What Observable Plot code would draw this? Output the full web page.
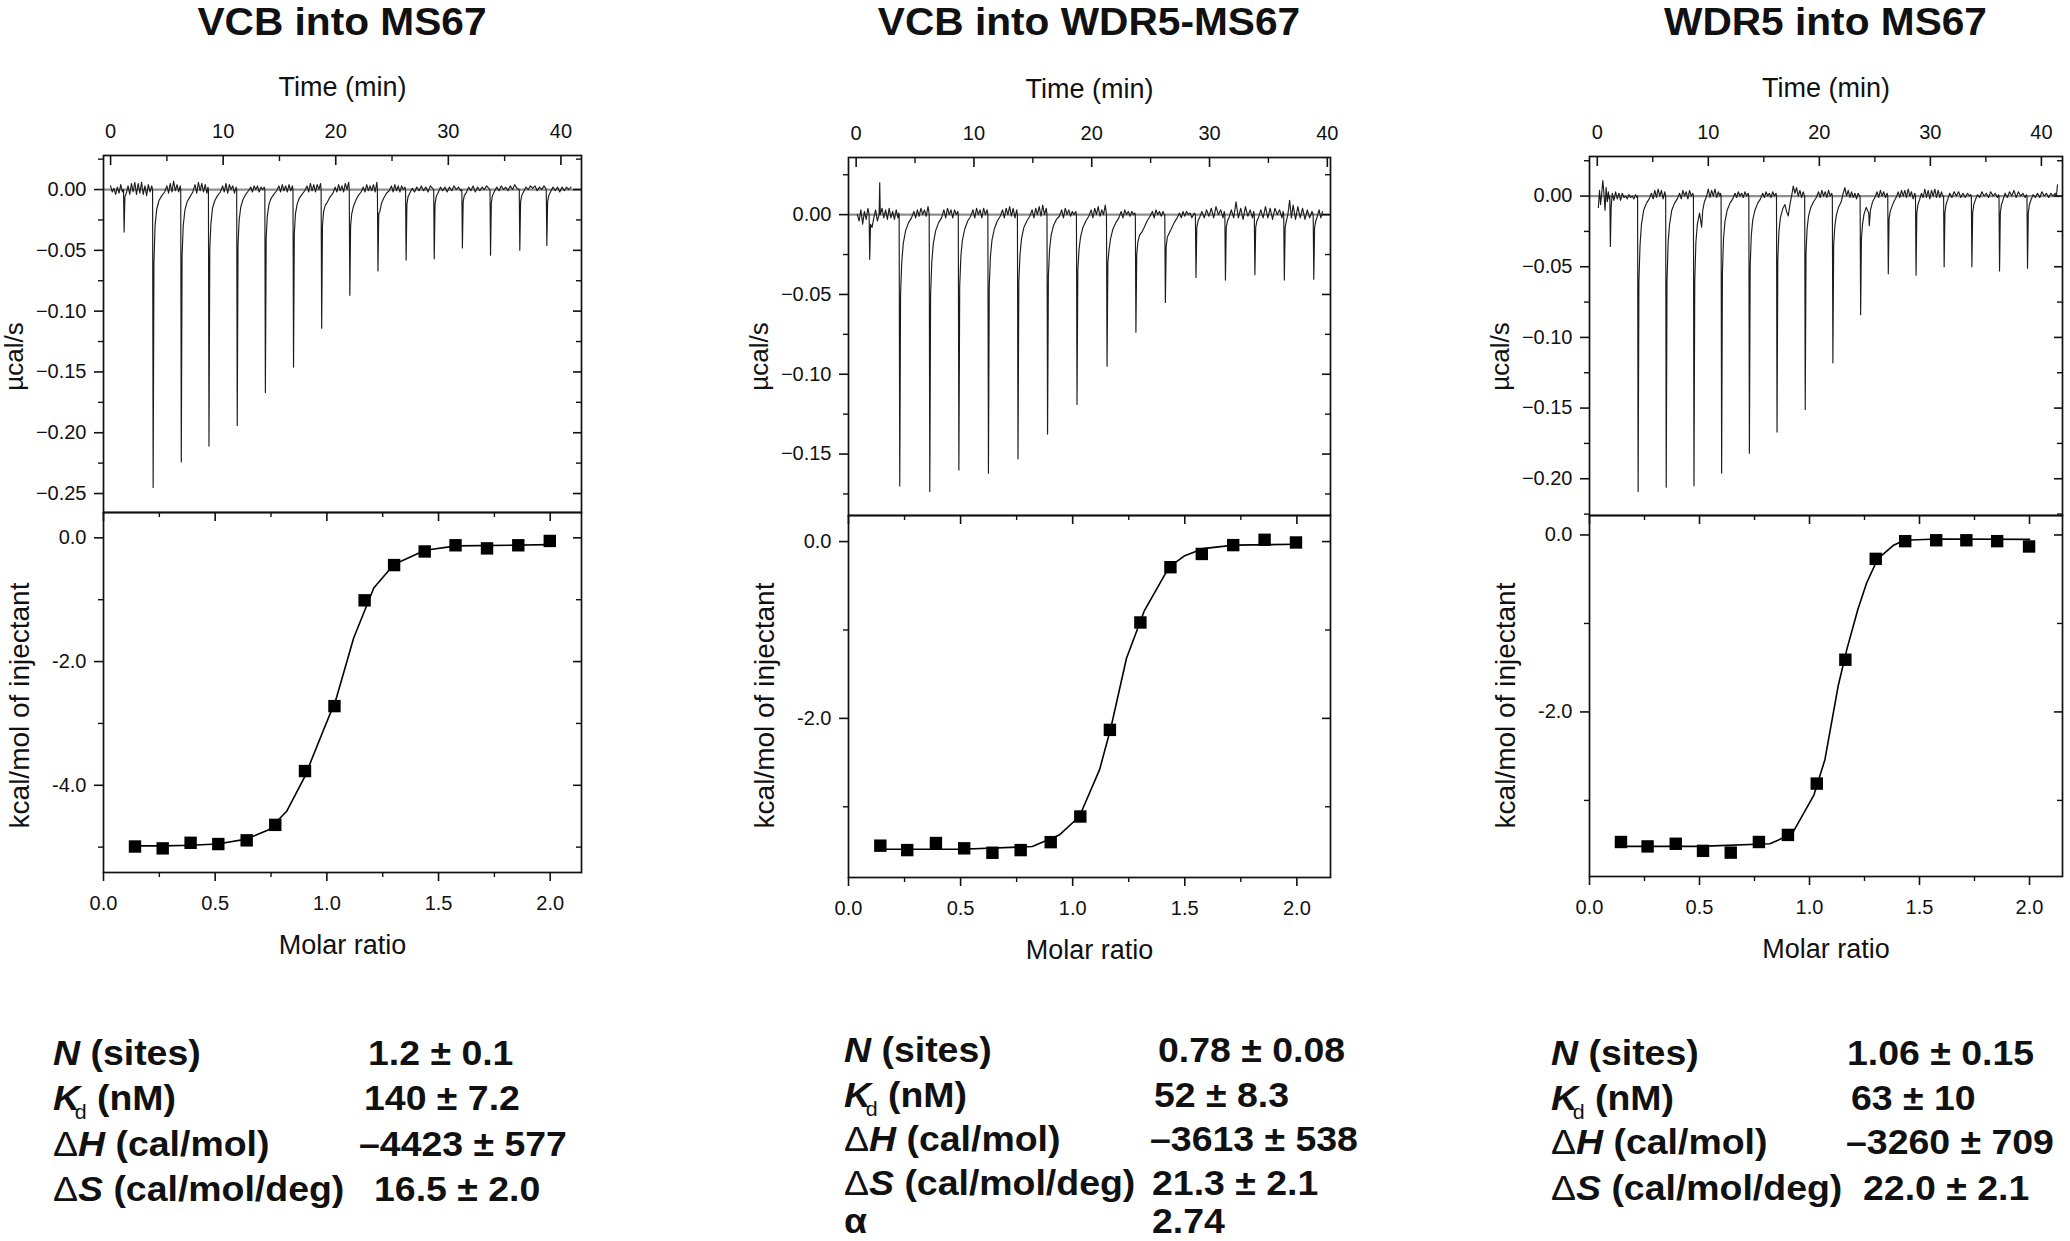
<!DOCTYPE html>
<html>
<head>
<meta charset="utf-8">
<script src="https://cdn.jsdelivr.net/npm/d3@7"></script>
<script src="https://cdn.jsdelivr.net/npm/@observablehq/plot@0.6"></script>
<style>
html, body { margin: 0; padding: 0; background: #fff; }
#root { position: relative; width: 2070px; height: 1241px; overflow: hidden; background: #fff; }
#root > svg { position: absolute; left: 0; top: 0; }
</style>
</head>
<body>
<div id="root"></div>
<script>
// ---------------- DATA ----------------
const titles = ["VCB into MS67", "VCB into WDR5-MS67", "WDR5 into MS67"];
const timeLabel = "Time (min)";
const powerLabel = "µcal/s";
const ratioLabel = "Molar ratio";
const heatLabel = "kcal/mol of injectant";

const timeTicks = [0, 10, 20, 30, 40];
const timeMinorTicks = [5, 15, 25, 35];
const molarTicks = [0, 0.5, 1.0, 1.5, 2.0];
const molarMinorTicks = [0.25, 0.75, 1.25, 1.75];

const powerTicks1 = [0, -0.05, -0.10, -0.15, -0.20, -0.25];
const powerMinor1 = [0.025, -0.025, -0.075, -0.125, -0.175, -0.225];
const powerTicks2 = [0, -0.05, -0.10, -0.15];
const powerMinor2 = [0.025, -0.025, -0.075, -0.125, -0.175];
const powerTicks3 = [0, -0.05, -0.10, -0.15, -0.20];
const powerMinor3 = [0.025, -0.025, -0.075, -0.125, -0.175, -0.225];

const heatTicks1 = [0, -2, -4];
const heatMinor1 = [-1, -3, -5];
const heatTicks2 = [0, -2];
const heatMinor2 = [-1, -3];
const heatTicks3 = [0, -2];
const heatMinor3 = [-1, -3];

// raw thermograms, flat pairs: time (min), power (µcal/s)
const trace1 = [
 0.0,0.003, 0.15,-0.002, 0.3,0.001, 0.45,-0.004, 0.6,0.002, 0.75,-0.003, 0.9,0.004, 1.05,-0.002,
 1.15,0.0, 1.2,-0.035, 1.27,-0.006, 1.4,-0.003, 1.55,0.003, 1.7,-0.004, 1.85,0.005, 2.0,-0.002, 2.15,0.006, 2.3,-0.004, 2.45,0.005, 2.6,-0.003, 2.75,0.006, 2.9,-0.004, 3.05,0.003, 3.2,-0.005, 3.35,0.004, 3.5,-0.002, 3.65,0.003,
 3.73,0.0, 3.78,-0.245, 3.85,-0.06, 3.95,-0.03, 4.1,-0.016, 4.3,-0.009, 4.55,-0.005, 4.8,-0.002, 5.0,0.003, 5.15,-0.003, 5.3,0.005, 5.45,-0.002, 5.6,0.007, 5.75,-0.001, 5.9,0.004, 6.05,-0.002, 6.18,0.003,
 6.23,0.0, 6.28,-0.224, 6.35,-0.055, 6.45,-0.03, 6.6,-0.017, 6.8,-0.01, 7.05,-0.006, 7.3,-0.002, 7.5,0.004, 7.65,-0.003, 7.8,0.006, 7.95,-0.001, 8.1,0.005, 8.25,-0.002, 8.4,0.004, 8.55,-0.003, 8.65,0.002,
 8.69,0.0, 8.74,-0.211, 8.81,-0.05, 8.91,-0.028, 9.06,-0.015, 9.26,-0.009, 9.5,-0.005, 9.75,-0.002, 9.95,0.003, 10.1,-0.002, 10.25,0.005, 10.4,-0.003, 10.55,0.004, 10.7,0.0, 10.85,0.003, 11.0,-0.003, 11.15,0.002,
 11.2,0.0, 11.25,-0.194, 11.32,-0.045, 11.42,-0.025, 11.57,-0.014, 11.77,-0.008, 12.0,-0.004, 12.25,-0.001, 12.45,0.002, 12.6,-0.002, 12.75,0.003, 12.9,0.0, 13.05,0.003, 13.2,-0.002, 13.35,0.002, 13.5,0.0, 13.65,0.002,
 13.7,0.0, 13.75,-0.167, 13.82,-0.04, 13.92,-0.022, 14.07,-0.012, 14.27,-0.007, 14.5,-0.004, 14.75,-0.001, 14.95,0.003, 15.1,-0.002, 15.25,0.004, 15.4,-0.001, 15.55,0.003, 15.7,-0.002, 15.85,0.004, 16.0,-0.001, 16.15,0.003,
 16.2,0.0, 16.25,-0.146, 16.32,-0.036, 16.42,-0.02, 16.57,-0.012, 16.77,-0.007, 17.0,-0.004, 17.25,-0.001, 17.45,0.003, 17.6,-0.002, 17.75,0.005, 17.9,-0.001, 18.05,0.004, 18.2,-0.002, 18.35,0.004, 18.5,0.0, 18.65,0.005,
 18.7,0.0, 18.75,-0.114, 18.82,-0.03, 18.92,-0.018, 19.07,-0.013, 19.27,-0.01, 19.5,-0.006, 19.75,-0.003, 19.95,0.002, 20.1,-0.002, 20.25,0.004, 20.4,-0.001, 20.55,0.003, 20.7,-0.002, 20.85,0.005, 21.0,0.0, 21.15,0.006,
 21.2,0.0, 21.25,-0.087, 21.32,-0.03, 21.42,-0.02, 21.57,-0.014, 21.77,-0.009, 22.0,-0.005, 22.25,-0.002, 22.45,0.002, 22.6,-0.002, 22.75,0.004, 22.9,-0.001, 23.05,0.003, 23.2,-0.001, 23.35,0.004, 23.5,-0.002, 23.65,0.006,
 23.7,0.0, 23.75,-0.067, 23.82,-0.02, 23.92,-0.018, 24.07,-0.011, 24.27,-0.007, 24.5,-0.003, 24.75,-0.001, 24.95,0.003, 25.1,-0.002, 25.25,0.004, 25.4,-0.001, 25.55,0.003, 25.7,-0.002, 25.85,0.003, 26.0,0.0, 26.15,0.002,
 26.2,0.0, 26.25,-0.058, 26.32,-0.012, 26.42,-0.006, 26.57,-0.003, 26.8,0.001, 27.0,-0.002, 27.2,0.002, 27.4,-0.001, 27.6,0.003, 27.8,-0.001, 28.0,0.002, 28.2,-0.002, 28.4,0.003, 28.6,0.001,
 28.7,0.0, 28.75,-0.057, 28.82,-0.012, 28.92,-0.006, 29.07,-0.003, 29.3,0.002, 29.5,-0.001, 29.7,0.002, 29.9,-0.002, 30.1,0.002, 30.3,-0.001, 30.5,0.003, 30.7,0.0, 30.9,0.002, 31.1,-0.001,
 31.2,0.0, 31.25,-0.048, 31.32,-0.01, 31.42,-0.005, 31.57,-0.003, 31.8,0.002, 32.0,-0.001, 32.2,0.003, 32.4,-0.002, 32.6,0.002, 32.8,-0.001, 33.0,0.002, 33.2,0.0, 33.4,0.003, 33.6,0.001,
 33.7,0.0, 33.75,-0.054, 33.82,-0.011, 33.92,-0.005, 34.07,-0.002, 34.3,0.002, 34.5,-0.001, 34.7,0.003, 34.9,0.0, 35.1,0.002, 35.3,-0.001, 35.5,0.003, 35.7,0.0, 35.9,0.004, 36.1,0.001,
 36.3,0.0, 36.35,-0.050, 36.42,-0.01, 36.52,-0.005, 36.67,-0.002, 36.9,0.002, 37.1,0.0, 37.3,0.003, 37.5,0.001, 37.7,0.003, 37.9,-0.001, 38.1,0.002, 38.3,0.0, 38.5,0.003, 38.65,0.001,
 38.7,0.0, 38.75,-0.046, 38.82,-0.01, 38.92,-0.005, 39.07,-0.002, 39.3,0.002, 39.5,-0.001, 39.7,0.002, 39.9,-0.002, 40.1,0.002, 40.3,-0.001, 40.5,0.002, 40.7,0.0, 40.9,0.002
];
const trace2 = [
 0.1,0.0, 0.25,-0.004, 0.4,0.003, 0.55,-0.006, 0.7,0.002, 0.85,-0.003, 1.0,0.004, 1.1,0.0, 1.15,-0.028, 1.22,-0.006, 1.35,-0.008, 1.5,-0.002, 1.65,0.003, 1.8,-0.004, 1.95,0.0, 2.0,0.020, 2.05,0.0, 2.2,0.004, 2.35,-0.002, 2.5,0.003, 2.65,-0.003, 2.8,0.004, 2.95,-0.002, 3.1,0.002, 3.25,-0.003, 3.4,0.003, 3.55,-0.002, 3.62,0.001,
 3.65,0.0, 3.7,-0.170, 3.77,-0.05, 3.87,-0.03, 4.0,-0.018, 4.2,-0.01, 4.45,-0.005, 4.7,-0.002, 4.9,0.002, 5.05,-0.002, 5.2,0.003, 5.35,-0.001, 5.5,0.004, 5.65,0.0, 5.8,0.003, 5.95,-0.001, 6.1,0.005, 6.17,0.002,
 6.2,0.0, 6.25,-0.1735, 6.32,-0.05, 6.42,-0.03, 6.55,-0.018, 6.75,-0.01, 7.0,-0.005, 7.25,-0.002, 7.45,0.003, 7.6,-0.002, 7.75,0.004, 7.9,0.0, 8.05,0.003, 8.2,-0.002, 8.35,0.003, 8.5,0.0, 8.63,0.002,
 8.67,0.0, 8.72,-0.160, 8.79,-0.045, 8.89,-0.026, 9.02,-0.016, 9.22,-0.009, 9.47,-0.004, 9.72,-0.001, 9.92,0.003, 10.07,-0.002, 10.22,0.004, 10.37,0.0, 10.52,0.003, 10.67,-0.002, 10.82,0.004, 10.97,0.0, 11.12,0.003,
 11.18,0.0, 11.23,-0.162, 11.3,-0.045, 11.4,-0.026, 11.53,-0.016, 11.73,-0.009, 11.98,-0.004, 12.23,-0.001, 12.43,0.003, 12.58,-0.002, 12.73,0.004, 12.88,0.0, 13.03,0.005, 13.18,-0.001, 13.33,0.004, 13.48,-0.002, 13.63,0.003,
 13.69,0.0, 13.74,-0.153, 13.81,-0.042, 13.91,-0.025, 14.04,-0.015, 14.24,-0.008, 14.49,-0.004, 14.74,-0.001, 14.94,0.003, 15.09,-0.002, 15.24,0.004, 15.39,0.0, 15.54,0.005, 15.69,-0.001, 15.84,0.006, 15.99,0.0, 16.14,0.004,
 16.2,0.0, 16.25,-0.1375, 16.32,-0.038, 16.42,-0.022, 16.55,-0.013, 16.75,-0.007, 17.0,-0.003, 17.25,-0.001, 17.45,0.003, 17.6,-0.002, 17.75,0.004, 17.9,0.0, 18.05,0.003, 18.2,-0.001, 18.35,0.002, 18.5,0.0, 18.65,0.002,
 18.7,0.0, 18.75,-0.119, 18.82,-0.035, 18.92,-0.022, 19.05,-0.014, 19.25,-0.008, 19.5,-0.004, 19.75,-0.001, 19.95,0.003, 20.1,-0.002, 20.25,0.004, 20.4,0.0, 20.55,0.005, 20.7,-0.001, 20.85,0.003, 21.0,0.0, 21.15,0.006,
 21.25,0.0, 21.3,-0.095, 21.37,-0.03, 21.47,-0.022, 21.6,-0.015, 21.8,-0.009, 22.05,-0.005, 22.3,-0.002, 22.5,0.002, 22.65,-0.002, 22.8,0.003, 22.95,0.0, 23.1,0.002, 23.25,-0.001, 23.4,0.002, 23.55,0.0, 23.65,0.001,
 23.7,0.0, 23.75,-0.0737, 23.82,-0.025, 23.92,-0.017, 24.05,-0.013, 24.25,-0.011, 24.45,-0.008, 24.7,-0.004, 24.95,-0.001, 25.15,0.002, 25.3,-0.002, 25.45,0.003, 25.6,0.0, 25.75,0.002, 25.9,-0.001, 26.05,0.002, 26.15,0.0,
 26.2,0.0, 26.25,-0.055, 26.32,-0.02, 26.42,-0.014, 26.55,-0.012, 26.75,-0.009, 27.0,-0.005, 27.25,-0.002, 27.45,0.001, 27.6,-0.002, 27.75,0.002, 27.9,-0.001, 28.05,0.002, 28.2,0.0, 28.35,0.001, 28.5,-0.002, 28.7,0.001,
 28.8,0.0, 28.85,-0.0394, 28.92,-0.008, 29.02,-0.004, 29.15,-0.002, 29.35,0.002, 29.55,-0.002, 29.75,0.003, 29.95,-0.001, 30.15,0.004, 30.35,-0.002, 30.55,0.005, 30.75,0.0, 30.95,0.003, 31.15,-0.002, 31.25,0.002,
 31.3,0.0, 31.35,-0.041, 31.42,-0.008, 31.52,-0.004, 31.65,-0.002, 31.85,0.003, 32.05,-0.002, 32.25,0.008, 32.45,-0.002, 32.65,0.004, 32.85,-0.003, 33.05,0.005, 33.25,-0.001, 33.45,0.003, 33.65,-0.002, 33.75,0.002,
 33.8,0.0, 33.85,-0.0376, 33.92,-0.008, 34.02,-0.004, 34.15,-0.002, 34.35,0.003, 34.55,-0.002, 34.75,0.005, 34.95,-0.002, 35.15,0.004, 35.35,-0.003, 35.55,0.004, 35.75,0.0, 35.95,0.003, 36.15,-0.002, 36.25,0.002,
 36.3,0.0, 36.35,-0.041, 36.42,-0.008, 36.52,-0.004, 36.65,0.0, 36.8,0.009, 36.95,-0.002, 37.1,0.006, 37.3,-0.003, 37.5,0.005, 37.7,-0.002, 37.9,0.004, 38.1,-0.003, 38.3,0.003, 38.5,-0.002, 38.7,0.002,
 38.8,0.0, 38.85,-0.0405, 38.92,-0.008, 39.02,-0.004, 39.15,-0.001, 39.3,0.003, 39.45,-0.002, 39.6,0.002
];
const trace3 = [
 0.1,-0.008, 0.2,0.004, 0.3,-0.006, 0.4,0.002, 0.5,0.011, 0.6,0.002, 0.7,-0.01, 0.8,0.006, 0.9,-0.004, 1.0,0.003, 1.08,-0.002,
 1.13,0.0, 1.18,-0.0356, 1.25,-0.008, 1.35,0.002, 1.5,-0.003, 1.65,0.003, 1.8,-0.002, 1.95,0.002, 2.1,-0.003, 2.25,0.002, 2.4,-0.001, 2.55,0.0, 2.7,-0.002, 2.85,0.001, 3.0,-0.001, 3.15,0.0, 3.3,-0.002, 3.45,0.001, 3.58,-0.001,
 3.63,0.0, 3.68,-0.209, 3.75,-0.06, 3.85,-0.035, 3.98,-0.02, 4.18,-0.01, 4.43,-0.005, 4.68,-0.002, 4.88,0.002, 5.03,-0.002, 5.18,0.004, 5.33,-0.001, 5.48,0.005, 5.63,0.0, 5.78,0.004, 5.93,-0.002, 6.08,0.003,
 6.16,0.0, 6.21,-0.206, 6.28,-0.06, 6.38,-0.033, 6.51,-0.02, 6.71,-0.01, 6.96,-0.005, 7.21,-0.002, 7.41,0.002, 7.56,-0.002, 7.71,0.004, 7.86,0.0, 8.01,0.003, 8.16,-0.002, 8.31,0.004, 8.46,0.0, 8.61,0.002,
 8.66,0.0, 8.71,-0.205, 8.78,-0.06, 8.88,-0.033, 9.01,-0.02, 9.21,-0.012, 9.4,-0.022, 9.5,-0.01, 9.65,-0.004, 9.85,0.0, 10.0,0.005, 10.15,-0.001, 10.3,0.004, 10.45,0.0, 10.6,0.005, 10.75,-0.001, 10.9,0.003, 11.05,0.0, 11.1,0.002,
 11.15,0.0, 11.2,-0.196, 11.27,-0.055, 11.37,-0.03, 11.5,-0.018, 11.7,-0.01, 11.95,-0.005, 12.2,-0.002, 12.4,0.002, 12.55,-0.001, 12.7,0.003, 12.85,0.0, 13.0,0.002, 13.15,-0.001, 13.3,0.003, 13.45,0.0, 13.6,0.002,
 13.65,0.0, 13.7,-0.182, 13.77,-0.05, 13.87,-0.028, 14.0,-0.017, 14.2,-0.01, 14.45,-0.005, 14.7,-0.002, 14.9,0.002, 15.05,-0.001, 15.2,0.003, 15.35,0.0, 15.5,0.002, 15.65,-0.001, 15.8,0.003, 15.95,0.0, 16.1,0.002,
 16.14,0.0, 16.19,-0.167, 16.26,-0.045, 16.36,-0.025, 16.5,-0.015, 16.7,-0.009, 16.9,-0.006, 17.05,-0.011, 17.2,-0.014, 17.35,-0.006, 17.5,0.0, 17.65,0.007, 17.8,0.002, 17.95,0.006, 18.1,0.0, 18.25,0.004, 18.4,-0.001, 18.55,0.003, 18.63,0.001,
 18.68,0.0, 18.73,-0.151, 18.8,-0.04, 18.9,-0.023, 19.03,-0.014, 19.23,-0.008, 19.48,-0.004, 19.73,-0.001, 19.93,0.003, 20.08,-0.001, 20.23,0.004, 20.38,0.0, 20.53,0.003, 20.68,-0.001, 20.83,0.004, 20.98,0.0, 21.12,0.002,
 21.17,0.0, 21.22,-0.118, 21.29,-0.035, 21.39,-0.022, 21.52,-0.014, 21.72,-0.008, 21.97,-0.004, 22.15,0.002, 22.3,0.006, 22.45,0.0, 22.6,0.004, 22.75,-0.001, 22.9,0.003, 23.05,-0.001, 23.2,0.002, 23.35,-0.002, 23.5,0.002, 23.62,0.0,
 23.67,0.0, 23.72,-0.084, 23.79,-0.03, 23.89,-0.02, 24.02,-0.013, 24.22,-0.008, 24.45,-0.012, 24.5,-0.021, 24.6,-0.01, 24.8,-0.004, 25.0,-0.001, 25.2,0.003, 25.35,-0.001, 25.5,0.004, 25.65,0.0, 25.8,0.003, 25.95,-0.001, 26.1,0.002,
 26.16,0.0, 26.21,-0.055, 26.28,-0.016, 26.38,-0.011, 26.51,-0.008, 26.71,-0.004, 26.91,-0.001, 27.1,0.003, 27.25,-0.001, 27.4,0.004, 27.55,0.0, 27.7,0.004, 27.85,-0.001, 28.0,0.005, 28.15,0.0, 28.3,0.003, 28.45,-0.002, 28.6,0.002,
 28.66,0.0, 28.71,-0.056, 28.78,-0.012, 28.88,-0.006, 29.01,-0.003, 29.2,0.002, 29.35,-0.001, 29.5,0.005, 29.65,-0.001, 29.8,0.004, 29.95,-0.002, 30.1,0.004, 30.25,0.0, 30.4,0.005, 30.55,-0.001, 30.7,0.004, 30.85,-0.001, 31.0,0.003, 31.12,0.0,
 31.19,0.0, 31.24,-0.050, 31.31,-0.012, 31.41,-0.006, 31.54,-0.003, 31.74,0.002, 31.94,-0.001, 32.14,0.003, 32.34,0.0, 32.54,0.003, 32.74,-0.001, 32.94,0.002, 33.14,-0.001, 33.34,0.002, 33.54,0.0, 33.64,0.001,
 33.69,0.0, 33.74,-0.050, 33.81,-0.012, 33.91,-0.006, 34.04,-0.003, 34.24,0.001, 34.44,-0.001, 34.64,0.003, 34.84,0.0, 35.04,0.002, 35.24,-0.001, 35.44,0.003, 35.64,0.0, 35.84,0.002, 36.04,-0.001, 36.14,0.001,
 36.18,0.0, 36.23,-0.053, 36.3,-0.012, 36.4,-0.006, 36.53,-0.003, 36.73,0.002, 36.93,-0.001, 37.13,0.003, 37.33,0.0, 37.53,0.004, 37.73,-0.001, 37.93,0.003, 38.13,0.0, 38.33,0.002, 38.53,-0.001, 38.65,0.001,
 38.7,0.0, 38.75,-0.051, 38.82,-0.012, 38.92,-0.006, 39.05,-0.003, 39.25,0.001, 39.45,-0.001, 39.65,0.002, 39.85,-0.001, 40.05,0.003, 40.25,0.0, 40.45,0.002, 40.65,-0.001, 40.85,0.002, 41.05,0.0, 41.25,0.002, 41.35,0.0, 41.45,0.008
];

// integrated heats (molar ratio, kcal/mol of injectant)
const molar1 = [0.141, 0.265, 0.390, 0.514, 0.641, 0.769, 0.902, 1.034, 1.169, 1.301, 1.438, 1.576, 1.717, 1.857, 1.998];
const heat1  = [-4.99, -5.02, -4.93, -4.95, -4.89, -4.64, -3.77, -2.72, -1.01, -0.44, -0.22, -0.12, -0.17, -0.12, -0.05];
const molar2 = [0.142, 0.262, 0.390, 0.516, 0.642, 0.768, 0.902, 1.034, 1.166, 1.302, 1.436, 1.576, 1.716, 1.856, 1.996];
const heat2  = [-3.44, -3.49, -3.41, -3.47, -3.52, -3.49, -3.40, -3.11, -2.13, -0.915, -0.29, -0.14, -0.04, 0.02, -0.01];
const molar3 = [0.143, 0.264, 0.392, 0.516, 0.642, 0.770, 0.902, 1.033, 1.163, 1.301, 1.435, 1.576, 1.713, 1.853, 1.998];
const heat3  = [-3.47, -3.52, -3.49, -3.57, -3.59, -3.47, -3.39, -2.81, -1.41, -0.27, -0.07, -0.06, -0.06, -0.07, -0.13];

// fitted curves
const fitX1 = [0.14, 0.27, 0.39, 0.51, 0.64, 0.74, 0.82, 0.90, 0.98, 1.04, 1.12, 1.21, 1.30, 1.44, 1.58, 2.0];
const fitY1 = [-4.98, -4.98, -4.97, -4.95, -4.87, -4.72, -4.42, -3.87, -3.15, -2.62, -1.62, -0.81, -0.43, -0.20, -0.13, -0.11];
const fitX2 = [0.14, 0.50, 0.82, 0.94, 1.03, 1.12, 1.17, 1.24, 1.32, 1.43, 1.50, 1.58, 1.72, 2.0];
const fitY2 = [-3.48, -3.48, -3.45, -3.32, -3.11, -2.58, -2.11, -1.32, -0.78, -0.29, -0.16, -0.08, -0.04, -0.03];
const fitX3 = [0.14, 0.50, 0.82, 0.92, 1.02, 1.07, 1.13, 1.17, 1.22, 1.26, 1.31, 1.38, 1.43, 1.58, 2.0];
const fitY3 = [-3.52, -3.52, -3.49, -3.38, -2.94, -2.54, -1.71, -1.29, -0.84, -0.54, -0.27, -0.12, -0.06, -0.045, -0.05];

// thermodynamic parameters
const paramNames = ["N (sites)", "Kd (nM)", "ΔH (cal/mol)", "ΔS (cal/mol/deg)", "α"];
const params1 = ["1.2 ± 0.1", "140 ± 7.2", "–4423 ± 577", "16.5 ± 2.0"];
const params2 = ["0.78 ± 0.08", "52 ± 8.3", "–3613 ± 538", "21.3 ± 2.1", "2.74"];
const params3 = ["1.06 ± 0.15", "63 ± 10", "–3260 ± 709", "22.0 ± 2.1"];

// ---------------- LAYOUT ----------------
const W = 2070, H = 1241;
const FONT = "'Liberation Sans', Arial, Helvetica, sans-serif";
const panels = [
  {fx0: 103, fx1: 581, fy0: 155, sep: 512, fy1: 872, tDom: [-0.63, 41.83], pDom: [-0.2656, 0.028], mDom: [0, 2.14], hDom: [-5.41, 0.41],
   trace: trace1, pT: powerTicks1, pM: powerMinor1, hT: heatTicks1, hM: heatMinor1, molar: molar1, heat: heat1, fx: fitX1, fy: fitY1,
   params: params1, labX: 53, valX: [368, 364, 359, 374], rowY: [1065, 1110, 1156, 1201]},
  {fx0: 848, fx1: 1330, fy0: 157, sep: 515, fy1: 877, tDom: [-0.65, 40.27], pDom: [-0.1885, 0.0358], mDom: [0, 2.15], hDom: [-3.80, 0.295],
   trace: trace2, pT: powerTicks2, pM: powerMinor2, hT: heatTicks2, hM: heatMinor2, molar: molar2, heat: heat2, fx: fitX2, fy: fitY2,
   params: params2, labX: 844, valX: [1158, 1154, 1150, 1152, 1152], rowY: [1062, 1107, 1151, 1195, 1233]},
  {fx0: 1589, fx1: 2062, fy0: 156, sep: 515, fy1: 876, tDom: [-0.7, 41.9], pDom: [-0.226, 0.028], mDom: [0, 2.15], hDom: [-3.86, 0.22],
   trace: trace3, pT: powerTicks3, pM: powerMinor3, hT: heatTicks3, hM: heatMinor3, molar: molar3, heat: heat3, fx: fitX3, fy: fitY3,
   params: params3, labX: 1551, valX: [1847, 1851, 1846, 1863], rowY: [1065, 1110, 1154, 1200]}
];

const root = document.getElementById("root");
const ink = "#111";
const baseStyle = {background: "transparent", overflow: "visible", fontFamily: FONT, fontSize: "20px", color: ink};

const fmtPower = d => d === 0 ? "0.00" : "\u2212" + Math.abs(d).toFixed(2);
const fmtHeat = d => d === 0 ? "0.0" : "-" + Math.abs(d).toFixed(1);

function pairs(flat) {
  const rows = [];
  for (let k = 0; k < flat.length; k += 2) rows.push({t: flat[k], v: flat[k + 1]});
  return rows;
}

function mount(svg) {
  svg.style.position = "absolute";
  svg.style.left = "0px";
  svg.style.top = "0px";
  root.appendChild(svg);
}

panels.forEach((p, i) => {
  const fw = p.fx1 - p.fx0;
  const fhTop = p.sep - p.fy0;
  const fhBot = p.fy1 - p.sep;

  // ---------- raw thermogram ----------
  const top = Plot.plot({
    width: W, height: H,
    marginLeft: p.fx0, marginRight: W - p.fx1, marginTop: p.fy0, marginBottom: H - p.sep,
    x: {domain: p.tDom, axis: null},
    y: {domain: p.pDom, axis: null},
    style: baseStyle,
    marks: [
      Plot.ruleY([0], {stroke: "#8e8e8e", strokeWidth: 2.2}),
      Plot.line(pairs(p.trace), {x: "t", y: "v", stroke: "#1c1c1c", strokeWidth: 1.15}),
      Plot.frame({stroke: ink, strokeWidth: 1.7}),
      // left (outward) ticks
      Plot.tickY(p.pT, {y: d => d, insetLeft: -9, insetRight: fw, stroke: ink, strokeWidth: 1.6}),
      Plot.tickY(p.pM, {y: d => d, insetLeft: -5, insetRight: fw, stroke: ink, strokeWidth: 1.4}),
      // right (inward) ticks
      Plot.tickY(p.pT, {y: d => d, insetLeft: fw - 8, stroke: ink, strokeWidth: 1.6}),
      Plot.tickY(p.pM, {y: d => d, insetLeft: fw - 5, stroke: ink, strokeWidth: 1.4}),
      // top (inward) time ticks
      Plot.tickX(timeTicks, {x: d => d, insetBottom: fhTop - 10, stroke: ink, strokeWidth: 1.6}),
      Plot.tickX(timeMinorTicks, {x: d => d, insetBottom: fhTop - 6, stroke: ink, strokeWidth: 1.4}),
      // tick labels
      Plot.text(p.pT, {y: d => d, text: fmtPower, frameAnchor: "left", textAnchor: "end", dx: -17, fontSize: 20, fill: ink}),
      Plot.text(timeTicks, {x: d => d, text: d => String(d), frameAnchor: "top", lineAnchor: "bottom", dy: -18, fontSize: 20, fill: ink}),
      // axis titles
      Plot.text([timeLabel], {text: d => d, frameAnchor: "top", lineAnchor: "bottom", dy: -60, fontSize: 27, fill: ink}),
      Plot.text([powerLabel], {text: d => d, frameAnchor: "left", textAnchor: "middle", rotate: -90, lineAnchor: "bottom",
        dx: -81, dy: 356 - (p.fy0 + p.sep) / 2, fontSize: 26, fill: ink})
    ]
  });
  mount(top);

  // ---------- integrated heats ----------
  const points = p.molar.map((m, k) => ({m, h: p.heat[k]}));
  const fit = p.fx.map((m, k) => ({m, h: p.fy[k]}));
  const bot = Plot.plot({
    width: W, height: H,
    marginLeft: p.fx0, marginRight: W - p.fx1, marginTop: p.sep, marginBottom: H - p.fy1,
    x: {domain: p.mDom, axis: null},
    y: {domain: p.hDom, axis: null},
    style: baseStyle,
    marks: [
      Plot.line(fit, {x: "m", y: "h", stroke: "#000", strokeWidth: 1.6}),
      Plot.dot(points, {x: "m", y: "h", symbol: "square", r: 7, fill: "#000", stroke: "none"}),
      Plot.frame({stroke: ink, strokeWidth: 1.7}),
      // left (outward)
      Plot.tickY(p.hT, {y: d => d, insetLeft: -9, insetRight: fw, stroke: ink, strokeWidth: 1.6}),
      Plot.tickY(p.hM, {y: d => d, insetLeft: -5, insetRight: fw, stroke: ink, strokeWidth: 1.4}),
      // right (inward)
      Plot.tickY(p.hT, {y: d => d, insetLeft: fw - 8, stroke: ink, strokeWidth: 1.6}),
      Plot.tickY(p.hM, {y: d => d, insetLeft: fw - 5, stroke: ink, strokeWidth: 1.4}),
      // top (inward)
      Plot.tickX(molarTicks, {x: d => d, insetBottom: fhBot - 9, stroke: ink, strokeWidth: 1.6}),
      Plot.tickX(molarMinorTicks, {x: d => d, insetBottom: fhBot - 5, stroke: ink, strokeWidth: 1.4}),
      // bottom (outward)
      Plot.tickX(molarTicks, {x: d => d, insetTop: fhBot, insetBottom: -9, stroke: ink, strokeWidth: 1.6}),
      Plot.tickX(molarMinorTicks, {x: d => d, insetTop: fhBot, insetBottom: -5, stroke: ink, strokeWidth: 1.4}),
      // labels
      Plot.text(p.hT, {y: d => d, text: fmtHeat, frameAnchor: "left", textAnchor: "end", dx: -17, fontSize: 20, fill: ink}),
      Plot.text(molarTicks, {x: d => d, text: d => d.toFixed(1), frameAnchor: "bottom", lineAnchor: "bottom", dy: 37, fontSize: 20, fill: ink}),
      Plot.text([ratioLabel], {text: d => d, frameAnchor: "bottom", lineAnchor: "bottom", dy: 81, fontSize: 27, fill: ink}),
      Plot.text([heatLabel], {text: d => d, frameAnchor: "left", textAnchor: "middle", rotate: -90, lineAnchor: "bottom",
        dx: -75, dy: 705 - (p.sep + p.fy1) / 2, fontSize: 28, fill: ink})
    ]
  });
  mount(bot);
});

// ---------- titles and parameter tables ----------
const ann = d3.create("svg").attr("width", W).attr("height", H)
  .style("position", "absolute").style("left", "0px").style("top", "0px")
  .style("font-family", FONT).style("fill", ink);

panels.forEach((p, i) => {
  ann.append("text")
    .attr("transform", `translate(${(p.fx0 + p.fx1) / 2},35) scale(1.07,1)`)
    .attr("text-anchor", "middle").attr("font-size", 38).attr("font-weight", "bold")
    .text(titles[i]);

  p.params.forEach((val, r) => {
    const name = paramNames[r];
    const y = p.rowY[r];
    const t = ann.append("text")
      .attr("transform", `translate(${p.labX},${y}) scale(1.07,1)`)
      .attr("font-size", 35).attr("font-weight", "bold");
    if (name.startsWith("Kd")) {
      t.append("tspan").attr("font-style", "italic").text("K");
      t.append("tspan").attr("font-size", 20).attr("font-weight", "normal").attr("dx", -5).attr("dy", 9).text("d");
      t.append("tspan").attr("dy", -9).text(" " + name.slice(3));
    } else if (name.startsWith("Δ")) {
      t.append("tspan").attr("font-weight", "normal").text("Δ");
      t.append("tspan").attr("font-style", "italic").text(name[1]);
      t.append("tspan").text(name.slice(2));
    } else if (name.startsWith("N")) {
      t.append("tspan").attr("font-style", "italic").text("N");
      t.append("tspan").text(name.slice(1));
    } else {
      t.append("tspan").text(name);
    }
    ann.append("text")
      .attr("transform", `translate(${p.valX[r]},${y}) scale(1.07,1)`)
      .attr("font-size", 35).attr("font-weight", "bold")
      .text(val);
  });
});
root.appendChild(ann.node());
</script>
</body>
</html>
